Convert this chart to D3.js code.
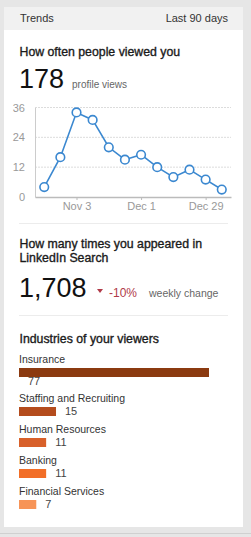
<!DOCTYPE html>
<html>
<head>
<meta charset="utf-8">
<script src="https://cdn.jsdelivr.net/npm/d3@7"></script>
<style>
	html, body { margin: 0; padding: 0; background: #e6e6e6; }
	svg { display: block; font-family: 'Liberation Sans', Arial, sans-serif; }
	.heading { font-size: 12.3px; fill: #1a1a1a; stroke: #1a1a1a; stroke-width: 0.35px; }
</style>
</head>
<body>
<div id="chart"></div>
<script>
// weekly profile views
const weeks = ['2013-10-20', '2013-10-27', '2013-11-03', '2013-11-10', '2013-11-17', '2013-11-24',
	'2013-12-01', '2013-12-08', '2013-12-15', '2013-12-22', '2013-12-29', '2014-01-05'];
const views = [4, 16, 34, 31, 20, 15, 17, 12, 8, 11, 7, 3];
const viewTicks = [0, 12, 24, 36];
const dateTicks = ['2013-11-03', '2013-12-01', '2013-12-29'];

// industries
const industries = ['Insurance', 'Staffing and Recruiting', 'Human Resources', 'Banking', 'Financial Services'];
const industryCounts = [77, 15, 11, 11, 7];
const industryColors = ['#8b3a10', '#b44c1d', '#d8602a', '#f26e27', '#f79457'];

const totalViews = d3.sum(views);
const searchCount = 1708;
const weeklyChange = -10;

const W = 251, H = 537;
const parse = d3.timeParse('%Y-%m-%d');

const svg = d3.select('#chart').append('svg')
	.attr('width', W)
	.attr('height', H);

// card + header
svg.append('rect').attr('x', 4).attr('y', 7).attr('width', 239).attr('height', 520).attr('fill', '#fff');
svg.append('rect').attr('x', 4).attr('y', 7).attr('width', 239).attr('height', 23).attr('fill', '#f1f1f1');
svg.append('line').attr('x1', 0).attr('x2', W).attr('y1', 533.5).attr('y2', 533.5).attr('stroke', '#d0d0d0');

svg.append('text').attr('x', 20).attr('y', 22).attr('font-size', 11).attr('fill', '#333').text('Trends');
svg.append('text').attr('x', 228).attr('y', 22).attr('font-size', 11).attr('fill', '#333')
	.attr('text-anchor', 'end').text('Last 90 days');

// section 1
svg.append('text').attr('class', 'heading').attr('x', 19.5).attr('y', 56).text('How often people viewed you');
svg.append('text').attr('x', 19).attr('y', 88).attr('font-size', 27).attr('fill', '#111').text(d3.format(',')(totalViews));
svg.append('text').attr('x', 72).attr('y', 88).attr('font-size', 10).attr('fill', '#666').text('profile views');

const x = d3.scaleTime()
	.domain([parse('2013-10-16'), parse('2014-01-09')])
	.range([35, 231]);
const y = d3.scaleLinear()
	.domain([0, 36])
	.range([197, 107.5]);

// grid
svg.append('g').selectAll('line')
	.data(viewTicks.filter(d => d > 0))
	.enter()
	.append('line')
	.attr('x1', 35).attr('x2', 231)
	.attr('y1', d => y(d)).attr('y2', d => y(d))
	.attr('stroke', '#dcdcdc')
	.attr('stroke-dasharray', '2,1');

const yAxis = svg.append('g')
	.attr('transform', 'translate(35,0)')
	.call(d3.axisLeft(y).tickValues(viewTicks).tickSize(0).tickPadding(10));
yAxis.select('.domain').attr('stroke', '#ccc');
yAxis.selectAll('text').attr('font-size', 11).attr('fill', '#999').attr('font-family', null);

const xAxis = svg.append('g')
	.attr('transform', `translate(0,${y(0)})`)
	.call(d3.axisBottom(x)
		.tickValues(dateTicks.map(parse))
		.tickFormat(d3.timeFormat('%b %-d'))
		.tickSize(3).tickSizeOuter(0).tickPadding(2));
xAxis.select('.domain').attr('stroke', '#bbb').attr('stroke-width', 1.5);
xAxis.selectAll('.tick line').attr('stroke', '#bbb');
xAxis.selectAll('text').attr('font-size', 11).attr('fill', '#999').attr('font-family', null);

const pts = weeks.map((d, i) => ({ date: parse(d), value: views[i] }));

svg.append('path')
	.datum(pts)
	.attr('fill', 'none')
	.attr('stroke', '#3b88d0')
	.attr('stroke-width', 1.6)
	.attr('d', d3.line().x(d => x(d.date)).y(d => y(d.value)));

svg.append('g').selectAll('circle')
	.data(pts)
	.enter()
	.append('circle')
	.attr('cx', d => x(d.date))
	.attr('cy', d => y(d.value))
	.attr('r', 4.3)
	.attr('fill', '#fff')
	.attr('stroke', '#3b88d0')
	.attr('stroke-width', 1.6);

// separators
[223.5, 315.5].forEach(yy => {
	svg.append('line').attr('x1', 19).attr('x2', 228).attr('y1', yy).attr('y2', yy).attr('stroke', '#ececec');
});

// section 2
svg.append('text').attr('class', 'heading').attr('x', 19.5).attr('y', 247.8).text('How many times you appeared in');
svg.append('text').attr('class', 'heading').attr('x', 19.5).attr('y', 262).text('LinkedIn Search');
svg.append('text').attr('x', 19).attr('y', 297).attr('font-size', 27).attr('fill', '#111').text(d3.format(',')(searchCount));
svg.append('path').attr('d', 'M97,289 L103,289 L100,293 Z').attr('fill', '#b03a48');
svg.append('text').attr('x', 109).attr('y', 297).attr('font-size', 12).attr('fill', '#b03a48').text(weeklyChange + '%');
svg.append('text').attr('x', 149).attr('y', 297).attr('font-size', 10.5).attr('fill', '#666').text('weekly change');

// section 3
svg.append('text').attr('class', 'heading').attr('x', 19.5).attr('y', 343).text('Industries of your viewers');

const bx = d3.scaleLinear()
	.domain([0, d3.max(industryCounts)])
	.range([0, 190]);
const rowTop = d3.scaleLinear().domain([0, 1]).range([356, 387]); // label cap top

const rows = svg.append('g').selectAll('g')
	.data(industries)
	.enter()
	.append('g')
	.attr('transform', (d, i) => `translate(19,${i === 0 ? 363 : rowTop(i) + 15})`);

rows.append('text')
	.attr('y', 0)
	.attr('font-size', 10.5)
	.attr('fill', '#333')
	.text(d => d);

rows.append('rect')
	.attr('y', 5)
	.attr('width', (d, i) => bx(industryCounts[i]))
	.attr('height', 9)
	.attr('fill', (d, i) => industryColors[i]);

rows.append('text')
	.attr('x', (d, i) => bx(industryCounts[i]) > 150 ? 9 : bx(industryCounts[i]) + 9)
	.attr('y', (d, i) => bx(industryCounts[i]) > 150 ? 22 : 13)
	.attr('font-size', 11)
	.attr('fill', '#444')
	.text((d, i) => industryCounts[i]);
</script>
</body>
</html>
